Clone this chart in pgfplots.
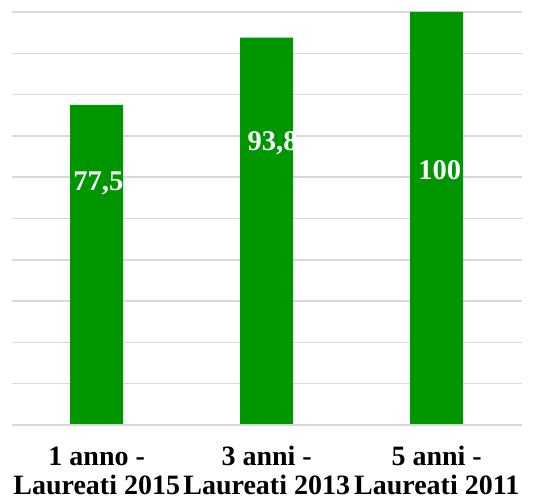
\documentclass[border=0pt]{standalone}
\usepackage{pgfplots}
\pgfplotsset{compat=1.18}
\usepackage{fontspec}
\setmainfont{Liberation Serif}
\definecolor{bargreen}{RGB}{0,150,0}
\definecolor{gridgray}{RGB}{217,217,217}
\begin{document}
\begin{tikzpicture}
\path[use as bounding box] (-11.7bp,-78bp) rectangle (521.3bp,425bp);
\begin{axis}[
  at={(0,0)}, anchor=south west,
  scale only axis,
  width=510bp, height=413bp,
  xmin=-0.5, xmax=2.5,
  ymin=0, ymax=100,
  ytick={0,10,...,100},
  yticklabels={},
  major tick length=0pt,
  ymajorgrids,
  grid style={gridgray, line width=1.5bp},
  axis line style={draw=none},
  xtick={0,1,2},
  xticklabels={{1 anno -\\Laureati 2015},{3 anni -\\Laureati 2013},{5 anni -\\Laureati 2011}},
  xticklabel style={align=center, font=\fontsize{28bp}{29bp}\selectfont\bfseries, yshift=-18bp},
  clip=false,
]
\addplot[ybar, bar width=53bp, fill=bargreen, draw=none] coordinates {(0,77.5) (1,93.8) (2,100)};
\draw[gridgray, line width=1.5bp] (axis cs:-0.5,0) -- (axis cs:2.5,0);
\node[white, font=\fontsize{28.5bp}{30bp}\selectfont\bfseries] at (axis cs:0.01,58.6) {77,5};
\node[white, font=\fontsize{28.5bp}{30bp}\selectfont\bfseries] at (axis cs:1.035,68.3) {93,8};
\node[white, font=\fontsize{28.5bp}{30bp}\selectfont\bfseries] at (axis cs:2.018,61.7) {100};
\end{axis}
\end{tikzpicture}
\end{document}
